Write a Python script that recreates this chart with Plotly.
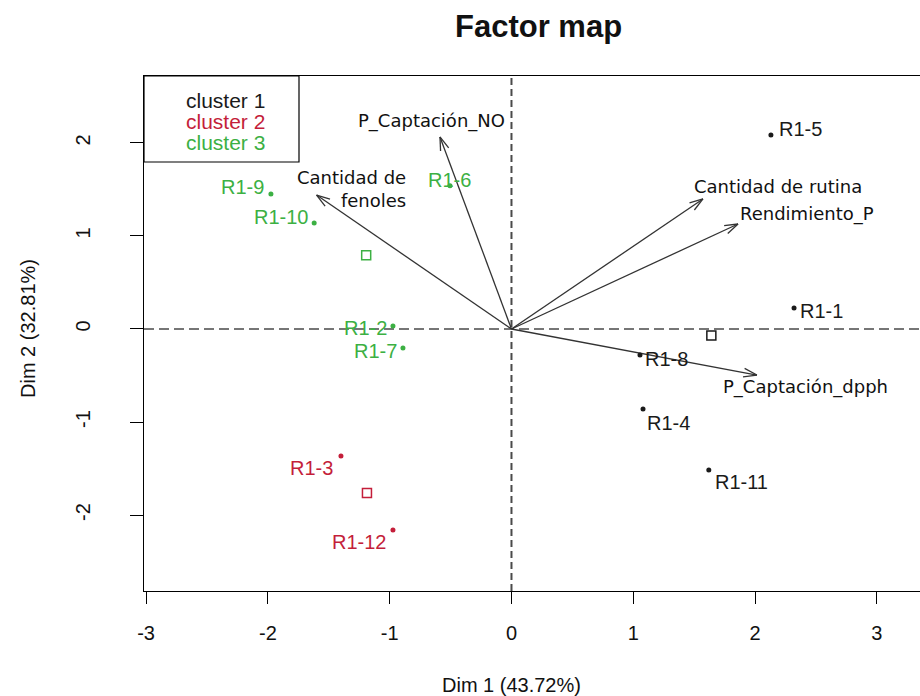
import math
import plotly.graph_objects as go

# ---- individuals (coordinates on Dim 1 / Dim 2) ----
ind_names = ["R1-1", "R1-2", "R1-3", "R1-4", "R1-5", "R1-6",
             "R1-7", "R1-8", "R1-9", "R1-10", "R1-11", "R1-12"]
ind_dim1 = [2.32, -0.973, -1.40, 1.08, 2.13, -0.505,
            -0.891, 1.055, -1.975, -1.62, 1.62, -0.973]
ind_dim2 = [0.226, 0.032, -1.366, -0.860, 2.086, 1.54,
            -0.204, -0.280, 1.452, 1.14, -1.516, -2.161]
ind_cluster = [1, 3, 2, 1, 1, 3, 3, 1, 3, 3, 1, 2]

# ---- supplementary variables (arrow tips) ----
var_names = ["P_Captación_NO", "Cantidad de<br>fenoles", "Cantidad de rutina",
             "Rendimiento_P", "P_Captación_dpph"]
var_dim1 = [-0.587, -1.60, 1.572, 1.86, 2.015]
var_dim2 = [2.065, 1.44, 1.398, 1.129, -0.495]

cluster_labels = ["cluster 1", "cluster 2", "cluster 3"]
x_ticks = [-3, -2, -1, 0, 1, 2, 3]
y_ticks = [-2, -1, 0, 1, 2]

title_text = "Factor map"
x_title = "Dim 1 (43.72%)"
y_title = "Dim 2 (32.81%)"

# ---- styling ----
cluster_colors = {1: "#1a1a1a", 2: "#c41e3a", 3: "#3cb043"}
ARIAL = "Liberation Sans, Arial, sans-serif"
VERDANA = "DejaVu Sans, Verdana, sans-serif"

W, H = 920, 696
M_L, M_R, M_T, M_B = 144, 0, 76, 105
X_RANGE = [-3.017, 3.354]
Y_RANGE = [-2.817, 2.720]
plot_w = W - M_L - M_R
plot_h = H - M_T - M_B
sx = plot_w / (X_RANGE[1] - X_RANGE[0])
sy = plot_h / (Y_RANGE[1] - Y_RANGE[0])

# label placement around each individual: (xanchor, xshift, yshift)
ind_label_pos = {
    "R1-1": ("left", 4, -3), "R1-2": ("right", -4, -2), "R1-3": ("right", -6, -12),
    "R1-4": ("left", 2, -14), "R1-5": ("left", 6, 6), "R1-6": ("center", 0, 6),
    "R1-7": ("right", -4, -3), "R1-8": ("left", 3, -4), "R1-9": ("right", -5, 7),
    "R1-10": ("right", -4, 6), "R1-11": ("left", 4, -12), "R1-12": ("right", -5, -12),
}
# label placement for each variable arrow: (xanchor, xshift, yshift, align)
var_label_pos = [("center", -8, 16, "center"), ("left", -22, 6, "right"),
                 ("left", -11, 12, "left"), ("left", 0, 10, "left"),
                 ("left", -36, -12, "left")]

fig = go.Figure()

# dashed reference axes through the origin
fig.add_shape(type="line", xref="x", yref="paper", x0=0, x1=0, y0=0, y1=1,
              line=dict(color="#4a4a4a", width=2, dash="7px,4px"), layer="below")
fig.add_shape(type="line", xref="paper", yref="y", x0=0, x1=1, y0=0, y1=0,
              line=dict(color="#4a4a4a", width=1.5, dash="10px,5px"), layer="below")

# variable arrows: shaft plus open two-stroke head, built in pixel space
HEAD_LEN, HEAD_ANG = 14, math.radians(18)
ax, ay = [], []
for vx, vy in zip(var_dim1, var_dim2):
    ax += [0, vx, None]
    ay += [0, vy, None]
    dx, dy = vx * sx, vy * sy
    n = math.hypot(dx, dy)
    ux, uy = dx / n, dy / n
    for s in (1, -1):
        c, si = math.cos(s * HEAD_ANG), math.sin(s * HEAD_ANG)
        rx, ry = ux * c - uy * si, ux * si + uy * c
        ax += [vx, vx - HEAD_LEN * rx / sx, None]
        ay += [vy, vy - HEAD_LEN * ry / sy, None]
fig.add_trace(go.Scatter(x=ax, y=ay, mode="lines", hoverinfo="skip",
                         line=dict(color="#333333", width=1.3), showlegend=False))

# individuals and cluster centres
for k in (1, 2, 3):
    xs = [x for x, c in zip(ind_dim1, ind_cluster) if c == k]
    ys = [y for y, c in zip(ind_dim2, ind_cluster) if c == k]
    fig.add_trace(go.Scatter(x=xs, y=ys, mode="markers", showlegend=False,
                             marker=dict(size=5, color=cluster_colors[k])))
    fig.add_trace(go.Scatter(x=[sum(xs) / len(xs)], y=[sum(ys) / len(ys)],
                             mode="markers", showlegend=False,
                             marker=dict(symbol="square-open", size=9,
                                         color=cluster_colors[k],
                                         line=dict(width=1.5))))

annotations = []
for name, x, y, c in zip(ind_names, ind_dim1, ind_dim2, ind_cluster):
    xa, xs_, ys_ = ind_label_pos[name]
    annotations.append(dict(x=x, y=y, xref="x", yref="y", text=name, showarrow=False,
                            xanchor=xa, yanchor="middle", xshift=xs_, yshift=ys_,
                            font=dict(family=ARIAL, size=20, color=cluster_colors[c])))
for name, x, y, (xa, xs_, ys_, al) in zip(var_names, var_dim1, var_dim2, var_label_pos):
    annotations.append(dict(x=x, y=y, xref="x", yref="y", text=name, showarrow=False,
                            xanchor=xa, yanchor="middle", xshift=xs_, yshift=ys_,
                            align=al, font=dict(family=VERDANA, size=18, color="#111111")))

# legend box in the upper-left corner
leg_x1 = (299 - M_L) / plot_w
leg_y0 = (H - M_B - 162) / plot_h
fig.add_shape(type="rect", xref="paper", yref="paper", x0=0, x1=leg_x1, y0=leg_y0, y1=1,
              line=dict(color="black", width=1.2), fillcolor="white")
for i, lab in enumerate(cluster_labels):
    ypix = 101 + 20.5 * i
    annotations.append(dict(x=(184 - M_L) / plot_w, y=(H - M_B - ypix) / plot_h,
                            xref="paper", yref="paper", text=lab, showarrow=False,
                            xanchor="left", yanchor="middle",
                            font=dict(family=ARIAL, size=21, color=cluster_colors[i + 1])))

# title and axis titles
annotations.append(dict(x=(538 - M_L) / plot_w, y=(H - M_B - 27) / plot_h,
                        xref="paper", yref="paper", text="<b>" + title_text + "</b>",
                        showarrow=False, xanchor="center", yanchor="middle",
                        font=dict(family=ARIAL, size=31, color="#111111")))
annotations.append(dict(x=0, y=(H - M_B - 685) / plot_h, xref="x", yref="paper",
                        text=x_title, showarrow=False, xanchor="center", yanchor="middle",
                        font=dict(family=ARIAL, size=20, color="#111111")))
annotations.append(dict(x=(28 - M_L) / plot_w, y=0, xref="paper", yref="y",
                        text=y_title, showarrow=False, textangle=-90,
                        xanchor="center", yanchor="middle",
                        font=dict(family=ARIAL, size=20, color="#111111")))

fig.update_layout(
    width=W, height=H, autosize=False,
    margin=dict(l=M_L, r=M_R, t=M_T, b=M_B),
    paper_bgcolor="white", plot_bgcolor="white",
    annotations=annotations, showlegend=False,
    xaxis=dict(range=X_RANGE, tickvals=x_ticks, ticktext=[str(v) for v in x_ticks],
               ticks="outside", ticklen=12,
               tickwidth=1, tickcolor="black", showgrid=False, zeroline=False,
               showline=True, linecolor="black", linewidth=1, mirror=True,
               ticklabelstandoff=12,
               tickfont=dict(family=ARIAL, size=20, color="#111111")),
    yaxis=dict(range=Y_RANGE, tickvals=y_ticks, ticktext=[str(v) for v in y_ticks],
               ticks="outside", ticklen=13,
               tickwidth=1, tickcolor="black", showgrid=False, zeroline=False,
               showline=True, linecolor="black", linewidth=1, tickangle=-90,
               ticklabelstandoff=32,
               tickfont=dict(family=ARIAL, size=20, color="#111111")),
)

fig.write_html("out.html")
